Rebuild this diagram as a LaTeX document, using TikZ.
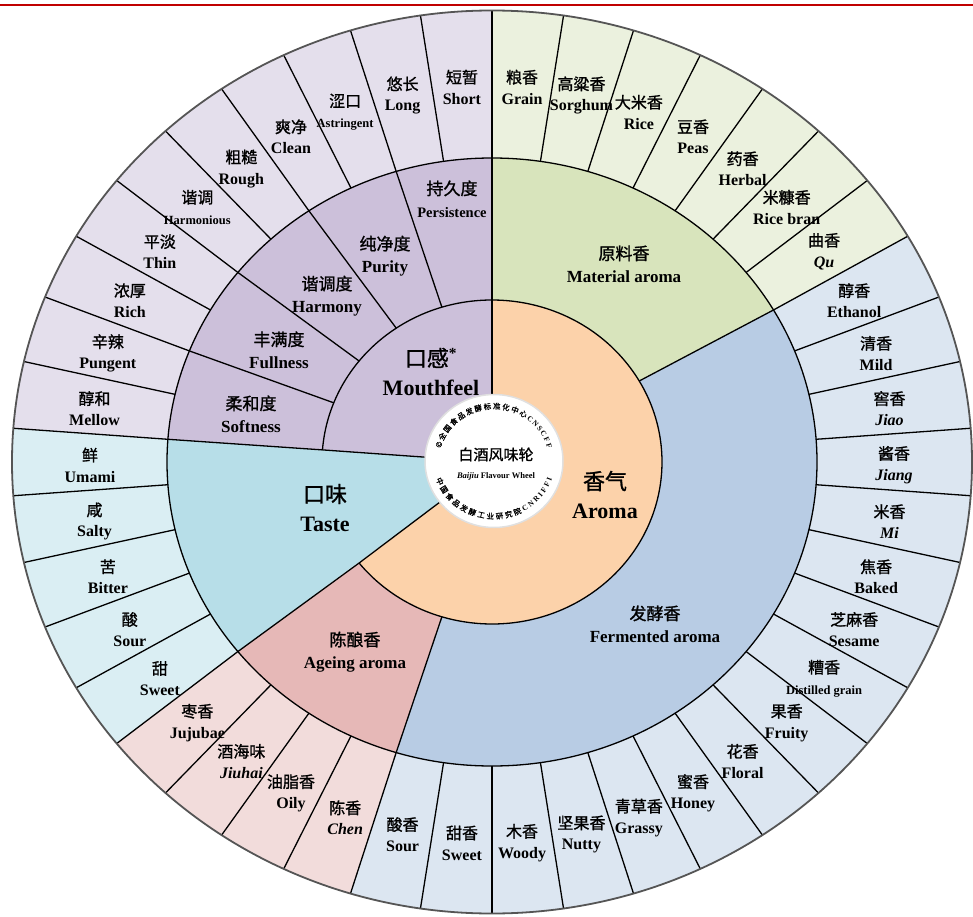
\documentclass[tikz,border=0pt]{standalone}
\usepackage{fontspec}
\setmainfont{Liberation Serif}
\newfontfamily\cjk{Noto Sans CJK SC}[FakeBold=1.2]
\usetikzlibrary{decorations.text}

\definecolor{mfcore}{HTML}{CCC0DA}
\definecolor{mfouter}{HTML}{E4DFEC}
\definecolor{tscore}{HTML}{B7DEE8}
\definecolor{tsouter}{HTML}{DAEEF3}
\definecolor{arcore}{HTML}{FCD2AA}
\definecolor{macore}{HTML}{D8E4BC}
\definecolor{maouter}{HTML}{EBF1DE}
\definecolor{fecore}{HTML}{B8CCE4}
\definecolor{feouter}{HTML}{DCE6F1}
\definecolor{agcore}{HTML}{E6B8B7}
\definecolor{agouter}{HTML}{F2DCDB}
\definecolor{rimgray}{HTML}{555555}
\definecolor{topred}{HTML}{C00000}

\newcommand{\zh}[1]{{\cjk\mdseries #1}}
\newcommand{\smallen}{\fontsize{12.5}{21}\selectfont}
\newcommand{\arcfont}{\cjk\mdseries\fontsize{7.5}{8}\selectfont}
\newcommand{\arclatin}{\rmfamily\bfseries\fontsize{7.5}{8}\selectfont}
% ring piece: colour, from, to, inner rx, inner ry, outer rx, outer ry
\newcommand{\wedgefill}[7]{\fill[#1] (#2:#6 and #7) arc[start angle=#2, end angle=#3, x radius=#6, y radius=#7] -- (#3:#4 and #5) arc[start angle=#3, end angle=#2, x radius=#4, y radius=#5] -- cycle;}

\begin{document}
\begin{tikzpicture}[x=1pt, y=1pt,
	spoke/.style={line width=1.3pt, black},
	rim/.style={line width=1.8pt, draw=rimgray},
	outlbl/.style={align=center, inner sep=0pt, font=\bfseries\fontsize{16}{21}\selectfont},
	midlbl/.style={align=center, inner sep=0pt, font=\bfseries\fontsize{17}{22.5}\selectfont},
	corelbl/.style={align=center, inner sep=0pt, font=\bfseries\fontsize{22}{29.5}\selectfont},
	hublbl/.style={align=center, inner sep=0pt, font=\bfseries\fontsize{15}{18.5}\selectfont}]
	
	\useasboundingbox (-492,-454) rectangle (481,462);
	\draw[line width=2pt, topred] (-492,457) -- (481,457);
	
	% outer ring
	\wedgefill{maouter}{30}{90}{325}{304}{480}{451.5}
	\wedgefill{mfouter}{90}{175.7143}{325}{304}{480}{451.5}
	\wedgefill{tsouter}{175.7143}{218.5714}{325}{304}{480}{451.5}
	\wedgefill{agouter}{218.5714}{252.8571}{325}{304}{480}{451.5}
	\wedgefill{feouter}{252.8571}{390}{325}{304}{480}{451.5}
	% middle ring and core
	\wedgefill{macore}{30}{90}{170}{162}{325}{304}
	\wedgefill{mfcore}{90}{175.7143}{60}{58}{325}{304}
	\wedgefill{tscore}{175.7143}{218.5714}{60}{58}{325}{304}
	\wedgefill{agcore}{218.5714}{252.8571}{170}{162}{325}{304}
	\wedgefill{fecore}{252.8571}{390}{170}{162}{325}{304}
	\wedgefill{arcore}{218.5714}{450}{60}{58}{170}{162}
	
	% borders
	\draw[spoke] (0,0) ellipse[x radius=325, y radius=304];
	\draw[spoke] (-141.4286:170 and 162) arc[start angle=-141.4286, end angle=175.7143, x radius=170, y radius=162];
	\foreach \k in {0,...,41}{
		\pgfmathsetmacro\a{90-\k*360/42}
		\draw[spoke] (\a:325 and 304) -- (\a:480 and 451.5);
	}
	\foreach \k in {0,7,23,27,32,34,36,38,40}{
		\pgfmathsetmacro\a{90-\k*360/42}
		\draw[spoke] (\a:170 and 162) -- (\a:325 and 304);
	}
	\foreach \k in {0,27,32}{
		\pgfmathsetmacro\a{90-\k*360/42}
		\draw[spoke] (\a:60 and 58) -- (\a:170 and 162);
	}
	\draw[rim] (0,0) ellipse[x radius=480, y radius=451.5];
	
	% hub
	\filldraw[fill=white, draw=black!12, line width=1.5pt] (2,1) ellipse[x radius=69, y radius=66.5];
	\path[decorate, decoration={text along path, text align=fit to path,
		text={|\arcfont|©全国食品发酵标准化中心|\arclatin|CNSCFF}}]
		(2,1) ++(166:55 and 52) arc[start angle=166, end angle=14, x radius=55, y radius=52];
	\path[decorate, decoration={text along path, text align=fit to path,
		text={|\arcfont|中国食品发酵工业研究院|\arclatin|CNRIFFI}}]
		(2,1) ++(198:61 and 58) arc[start angle=198, end angle=342, x radius=61, y radius=58];
	\node[hublbl] (hub) at (4,-2) {{\cjk\mdseries 白酒风味轮}\\{\fontsize{8.5}{18.5}\selectfont\textit{Baijiu} Flavour Wheel}};
	
	% first level
	\node[corelbl] (mouthfeel) at (-61,90) {\zh{口感}\textsuperscript{*}\\Mouthfeel};
	\node[corelbl] (taste) at (-167,-46) {\zh{口味}\\Taste};
	\node[corelbl] (aroma) at (113,-33) {\zh{香气}\\Aroma};
	
	% second level
	\node[midlbl] (persist) at (-40,263) {\zh{持久度}\\{\fontsize{14.5}{22.5}\selectfont Persistence}};
	\node[midlbl] (purity) at (-107,206) {\zh{纯净度}\\Purity};
	\node[midlbl] (harmony) at (-165,166) {\zh{谐调度}\\Harmony};
	\node[midlbl] (fullness) at (-213,112) {\zh{丰满度}\\Fullness};
	\node[midlbl] (softness) at (-241,48) {\zh{柔和度}\\Softness};
	\node[midlbl] (material) at (132,198) {\zh{原料香}\\Material aroma};
	\node[midlbl] (fermented) at (163,-162) {\zh{发酵香}\\Fermented aroma};
	\node[midlbl] (ageing) at (-137,-190) {\zh{陈酿香}\\Ageing aroma};
	
	% outer level, clockwise from the top
	\foreach \cn/\en [count=\i from 0] in {
		粮香/Grain, 高粱香/Sorghum, 大米香/Rice, 豆香/Peas, 药香/Herbal, 米糠香/Rice bran, 曲香/\textit{Qu},
		醇香/Ethanol, 清香/Mild, 窖香/\textit{Jiao}, 酱香/\textit{Jiang}, 米香/\textit{Mi}, 焦香/Baked, 芝麻香/Sesame,
		糟香/{\smallen Distilled grain}, 果香/Fruity, 花香/Floral, 蜜香/Honey, 青草香/Grassy, 坚果香/Nutty, 木香/Woody,
		甜香/Sweet, 酸香/Sour,
		陈香/\textit{Chen}, 油脂香/Oily, 酒海味/\textit{Jiuhai}, 枣香/Jujubae,
		甜/Sweet, 酸/Sour, 苦/Bitter, 咸/Salty, 鲜/Umami,
		醇和/Mellow, 辛辣/Pungent, 浓厚/Rich, 平淡/Thin, 谐调/{\smallen Harmonious}, 粗糙/Rough, 爽净/Clean,
		涩口/{\smallen Astringent}, 悠长/Long, 短暂/Short}{
		\pgfmathsetmacro\ang{90-(\i+0.5)*360/42}
		\node[outlbl, yshift=-3pt] (leaf\i) at (\ang:402 and 379) {\zh{\cn}\\\en};
	}
\end{tikzpicture}
\end{document}
